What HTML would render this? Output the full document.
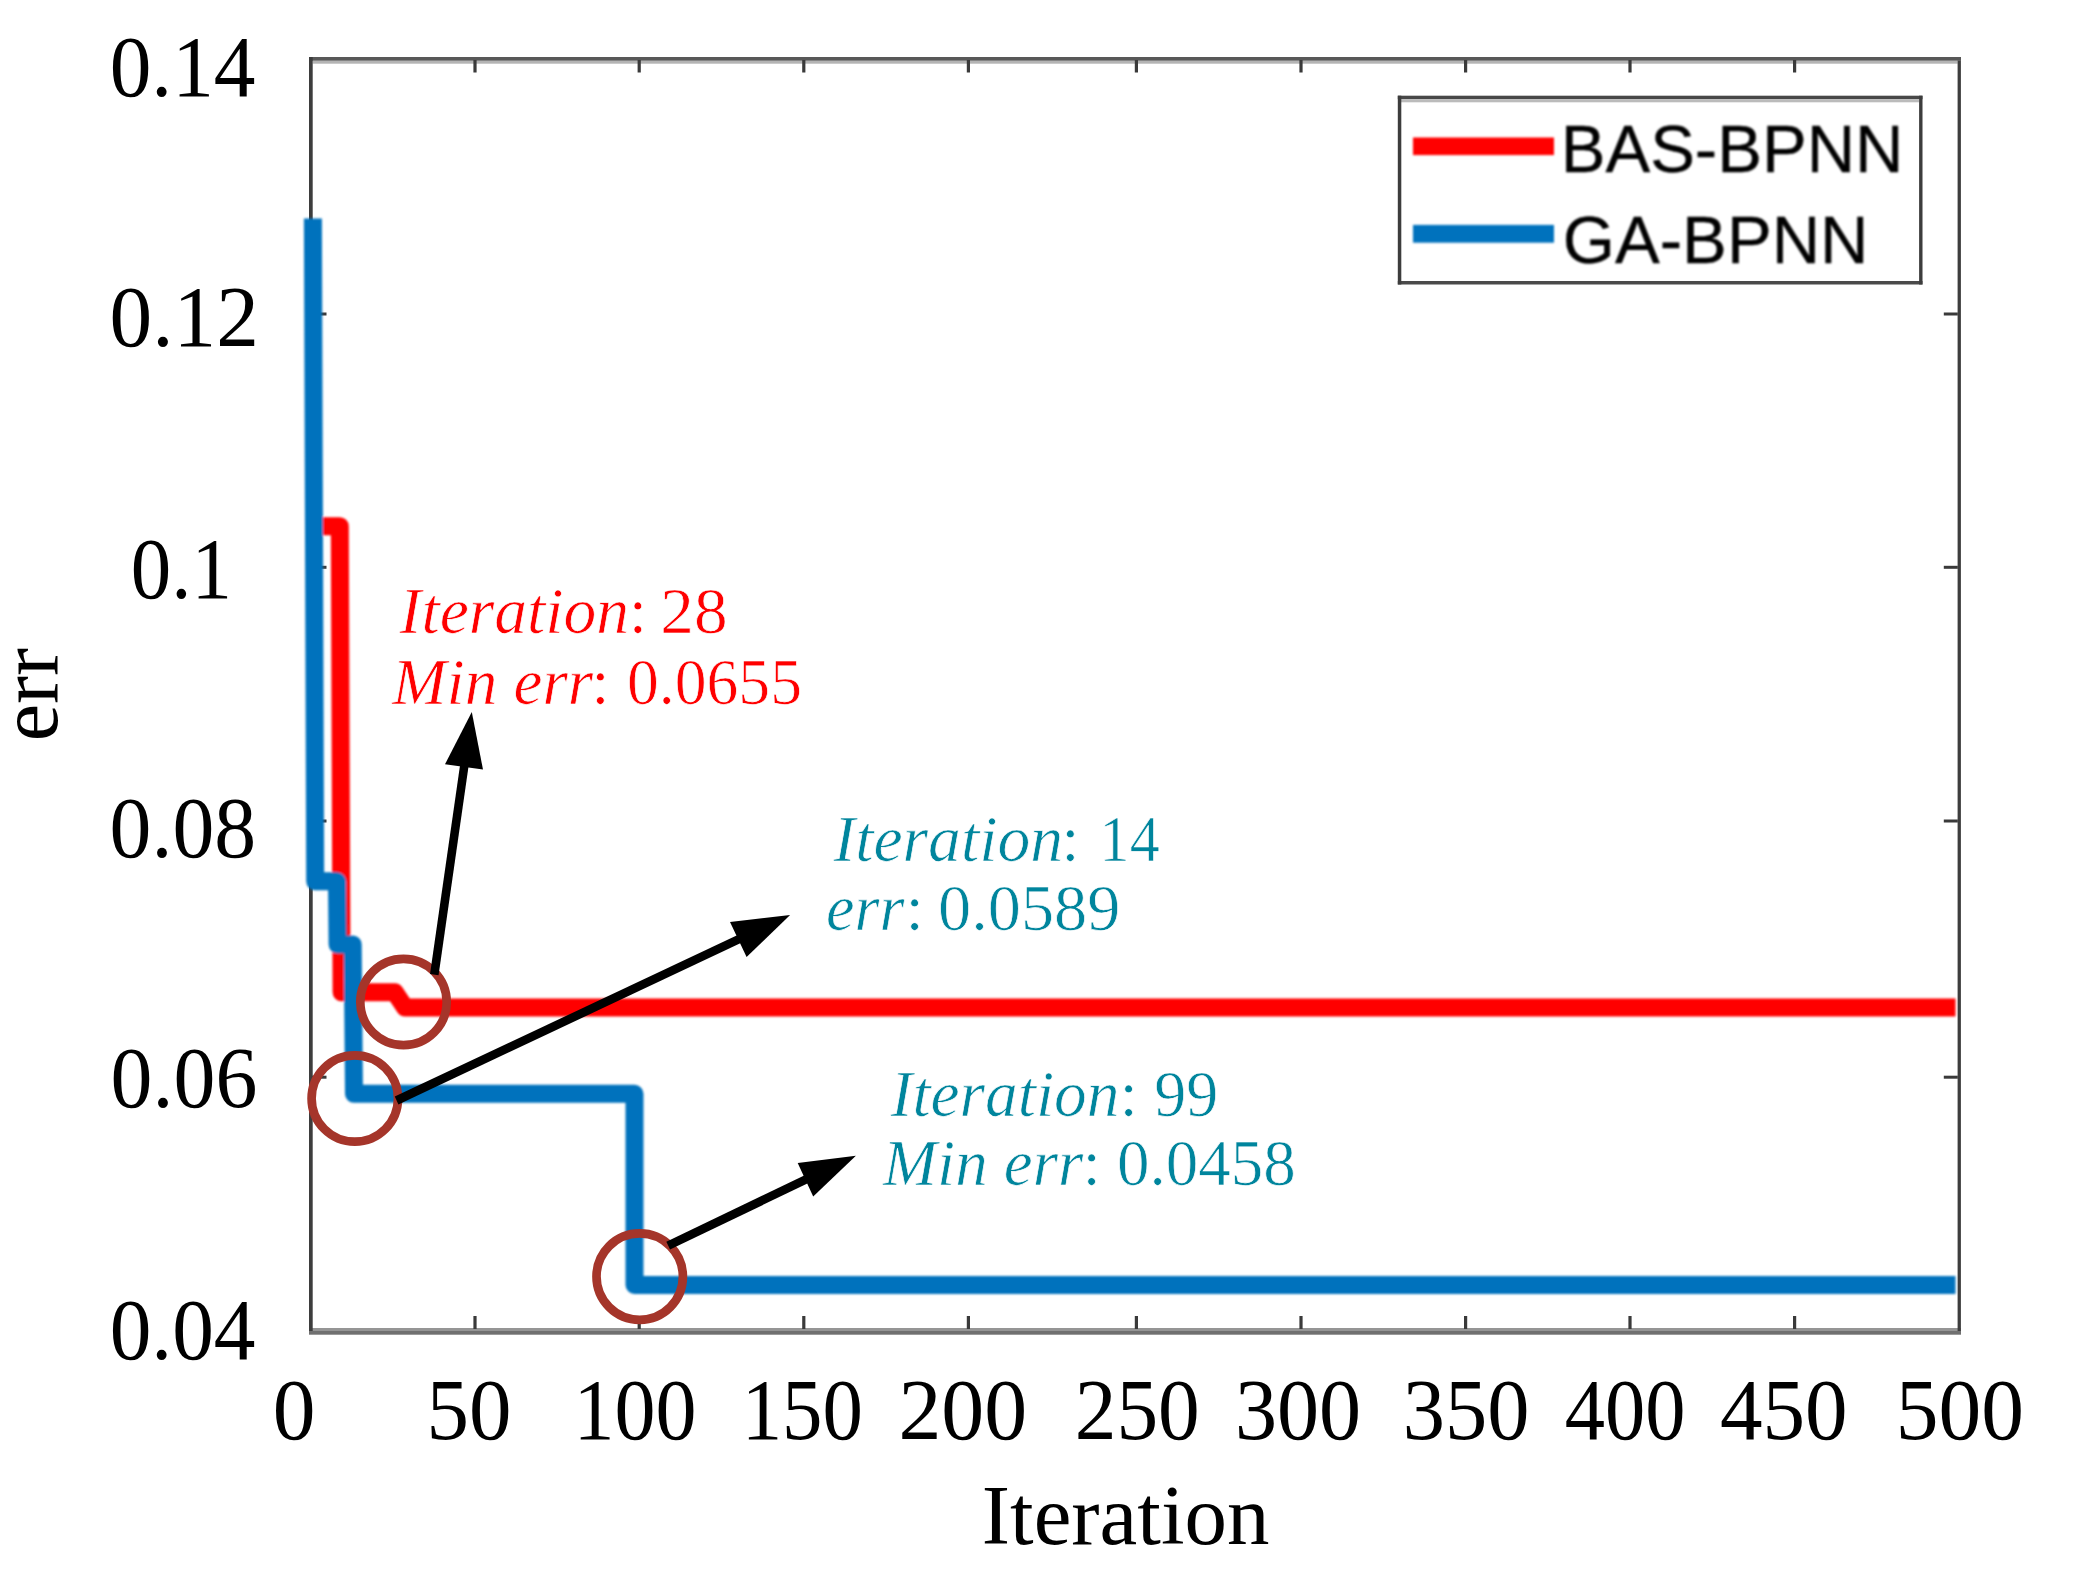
<!DOCTYPE html>
<html>
<head>
<meta charset="utf-8">
<title>err vs Iteration</title>
<style>
html,body{margin:0;padding:0;background:#fff;}
body{width:2082px;height:1571px;overflow:hidden;}
svg{display:block;}
.tick{font-family:"Liberation Serif",serif;font-size:86px;fill:#000;}
.lab{font-family:"Liberation Serif",serif;font-size:85px;fill:#000;}
.leg{font-family:"Liberation Sans",sans-serif;font-size:67px;fill:#000;}
.ann{font-family:"Liberation Serif",serif;font-size:66px;}
.it{font-style:italic;}
</style>
</head>
<body>
<svg width="2082" height="1571" viewBox="0 0 2082 1571">
<rect x="0" y="0" width="2082" height="1571" fill="#ffffff"/>

<!-- axes box -->
<g id="axes">
  <rect x="309" y="57" width="1652" height="3.8" fill="#585858"/>
  <rect x="312.7" y="60.8" width="1645" height="2.9" fill="#b4b4b4"/>
  <rect x="309" y="1328" width="1652" height="3" fill="#959595"/>
  <rect x="309" y="1331" width="1652" height="3.7" fill="#707070"/>
  <rect x="309" y="57" width="3.7" height="1274" fill="#3d3d3d"/>
  <rect x="1957.6" y="60.6" width="3.3" height="1270.4" fill="#3d3d3d"/>
</g>

<!-- ticks -->
<g id="ticks" fill="#3a3a3a">
  <rect x="473.4" y="1316" width="3.2" height="13"/>
  <rect x="637.6" y="1316" width="3.2" height="13"/>
  <rect x="802.2" y="1316" width="3.2" height="13"/>
  <rect x="966.8" y="1316" width="3.2" height="13"/>
  <rect x="1134.8" y="1316" width="3.2" height="13"/>
  <rect x="1299.4" y="1316" width="3.2" height="13"/>
  <rect x="1464.0" y="1316" width="3.2" height="13"/>
  <rect x="1628.4" y="1316" width="3.2" height="13"/>
  <rect x="1793.0" y="1316" width="3.2" height="13"/>
  <rect x="473.4" y="60" width="3.2" height="12.5"/>
  <rect x="637.6" y="60" width="3.2" height="12.5"/>
  <rect x="802.2" y="60" width="3.2" height="12.5"/>
  <rect x="966.8" y="60" width="3.2" height="12.5"/>
  <rect x="1134.8" y="60" width="3.2" height="12.5"/>
  <rect x="1299.4" y="60" width="3.2" height="12.5"/>
  <rect x="1464.0" y="60" width="3.2" height="12.5"/>
  <rect x="1628.4" y="60" width="3.2" height="12.5"/>
  <rect x="1793.0" y="60" width="3.2" height="12.5"/>
  <rect x="312" y="312.5" width="14.5" height="3"/>
  <rect x="312" y="565.8" width="14.5" height="3"/>
  <rect x="312" y="819.5" width="14.5" height="3"/>
  <rect x="312" y="1075.7" width="14.5" height="3"/>
  <rect x="1943.8" y="312.5" width="14" height="3"/>
  <rect x="1943.8" y="565.8" width="14" height="3"/>
  <rect x="1943.8" y="819.5" width="14" height="3"/>
  <rect x="1943.8" y="1075.7" width="14" height="3"/>
</g>

<!-- y tick labels -->
<g class="tick">
  <text transform="translate(109.7,95.9) scale(0.969,1)">0.14</text>
  <text transform="translate(109.6,345.9) scale(0.992,1)">0.12</text>
  <text transform="translate(130.8,597.8) scale(0.941,1)">0.1</text>
  <text transform="translate(109.6,857.0) scale(0.974,1)">0.08</text>
  <text transform="translate(110.6,1107.0) scale(0.975,1)">0.06</text>
  <text transform="translate(109.7,1359.0) scale(0.969,1)">0.04</text>
</g>

<!-- x tick labels -->
<g class="tick">
  <text transform="translate(272.8,1439.3) scale(0.995,1)">0</text>
  <text transform="translate(426.6,1439.3) scale(0.989,1)">50</text>
  <text transform="translate(573.4,1439.3) scale(0.954,1)">100</text>
  <text transform="translate(741.7,1439.3) scale(0.940,1)">150</text>
  <text transform="translate(898.4,1439.3) scale(0.998,1)">200</text>
  <text transform="translate(1074.7,1439.3) scale(0.970,1)">250</text>
  <text transform="translate(1235.0,1439.3) scale(0.978,1)">300</text>
  <text transform="translate(1402.8,1439.3) scale(0.983,1)">350</text>
  <text transform="translate(1564.7,1439.3) scale(0.936,1)">400</text>
  <text transform="translate(1719.9,1439.3) scale(0.990,1)">450</text>
  <text transform="translate(1895.8,1439.3) scale(0.994,1)">500</text>
</g>

<!-- axis labels -->
<text class="lab" transform="translate(981.8,1543.8) scale(0.999,1)">Iteration</text>
<text class="lab" transform="translate(57.1,741.2) rotate(-90) scale(0.988,1)">err</text>

<!-- curves -->
<defs>
  <filter id="soft" x="-2%" y="-2%" width="104%" height="104%"><feGaussianBlur stdDeviation="0.9"/></filter>
  <filter id="soft2" x="-5%" y="-20%" width="110%" height="140%"><feGaussianBlur stdDeviation="0.8"/></filter>
</defs>
<g filter="url(#soft)">
<!-- red curve -->
<path id="red" d="M316 526.2 H339.8 L341.6 992.3 H394.8 L405 1007.5 H1955.5" fill="none" stroke="#ff0000" stroke-width="18" stroke-linejoin="round"/>
<!-- blue curve -->
<path id="blue" d="M312.9 218.5 L315.2 881.3 H337 L337.6 944.5 H352.7 L354 1093.8 H634.5 V1285 H1955.5" fill="none" stroke="#0072bd" stroke-width="18" stroke-linejoin="round"/>
</g>

<!-- circles -->
<g fill="none" stroke="#a5352a" stroke-width="8.7">
  <circle cx="403.5" cy="1002" r="43.2"/>
  <circle cx="354.8" cy="1098.5" r="43.2"/>
  <circle cx="639.7" cy="1276.6" r="43.2"/>
</g>

<!-- arrows -->
<g id="arrows" stroke="#000" stroke-width="8.6" fill="none">
  <line x1="434.3" y1="974.6" x2="464.4" y2="765"/>
  <line x1="396.6" y1="1100.5" x2="742.7" y2="937.4"/>
  <line x1="668.2" y1="1245.6" x2="809.7" y2="1177.7"/>
</g>
<g fill="#000">
  <polygon points="471.8,712.1 445,764.3 483,769.6"/>
  <polygon points="790.1,915 730,922.1 746.6,957"/>
  <polygon points="855.9,1155.7 797.7,1163 813.2,1196.6"/>
</g>

<!-- legend -->
<g id="legend">
  <rect x="1397.8" y="95.7" width="524.7" height="188.8" fill="#fff"/>
  <rect x="1397.8" y="95.7" width="524.7" height="3.5" fill="#484848"/>
  <rect x="1401" y="99.2" width="518" height="3.1" fill="#bbbbbb"/>
  <rect x="1397.8" y="281" width="524.7" height="3.5" fill="#4a4a4a"/>
  <rect x="1397.8" y="95.7" width="3.5" height="188.8" fill="#3d3d3d"/>
  <rect x="1919.1" y="95.7" width="3.4" height="188.8" fill="#3d3d3d"/>
  <g filter="url(#soft2)">
    <rect x="1413" y="137.5" width="141" height="17.6" fill="#ff0000"/>
    <rect x="1413" y="224.9" width="141" height="17.8" fill="#0072bd"/>
  </g>
  <g filter="url(#soft2)" stroke="#000" stroke-width="0.3">
  <text class="leg" transform="translate(1560.7,172.3) scale(1.001,1)">BAS-BPNN</text>
  <text class="leg" transform="translate(1562.8,263.2) scale(1.002,1)">GA-BPNN</text>
  </g>
</g>

<!-- annotations -->
<g class="ann" fill="#ff0000" stroke="#ffffff" stroke-width="0.7">
  <text y="633.4"><tspan class="it" x="399.6" textLength="229.4" lengthAdjust="spacingAndGlyphs">Iteration</tspan><tspan x="628.7">: </tspan><tspan x="660.3" textLength="67.2" lengthAdjust="spacingAndGlyphs">28</tspan></text>
  <text y="703.6"><tspan class="it" x="392.3" textLength="200.8" lengthAdjust="spacingAndGlyphs">Min err</tspan><tspan x="591.2">: </tspan><tspan x="627.0" textLength="175.0" lengthAdjust="spacingAndGlyphs">0.0655</tspan></text>
</g>
<g class="ann" fill="#00859d" stroke="#ffffff" stroke-width="0.7">
  <text y="861.3"><tspan class="it" x="833.4" textLength="229.6" lengthAdjust="spacingAndGlyphs">Iteration</tspan><tspan x="1061.3">: </tspan><tspan x="1099.6" textLength="60.1" lengthAdjust="spacingAndGlyphs">14</tspan></text>
  <text y="930.0"><tspan class="it" x="826.1" textLength="78.4" lengthAdjust="spacingAndGlyphs">err</tspan><tspan x="905.5">: </tspan><tspan x="938.1" textLength="182.2" lengthAdjust="spacingAndGlyphs">0.0589</tspan></text>
  <text y="1116.3"><tspan class="it" x="890.7" textLength="228.7" lengthAdjust="spacingAndGlyphs">Iteration</tspan><tspan x="1119.5">: </tspan><tspan x="1154.2" textLength="64.0" lengthAdjust="spacingAndGlyphs">99</tspan></text>
  <text y="1185.0"><tspan class="it" x="883.0" textLength="200.2" lengthAdjust="spacingAndGlyphs">Min err</tspan><tspan x="1082.4">: </tspan><tspan x="1116.9" textLength="178.8" lengthAdjust="spacingAndGlyphs">0.0458</tspan></text>
</g>
</svg>
</body>
</html>
